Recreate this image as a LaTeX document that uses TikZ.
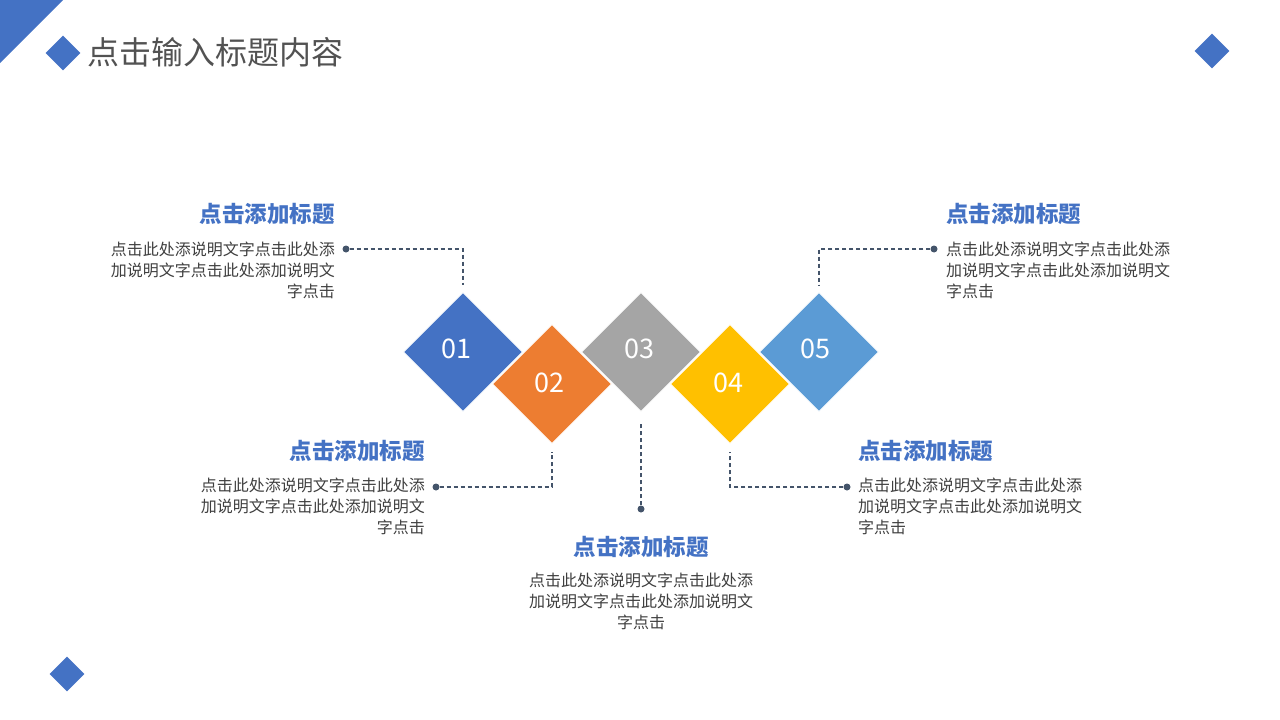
\documentclass[tikz,border=0pt]{standalone}
\usepackage{fontspec}
\newfontfamily\cjk{Noto Sans CJK SC}
\usetikzlibrary{shapes.geometric}
\definecolor{cblue}{HTML}{4472C4}
\definecolor{corange}{HTML}{ED7D31}
\definecolor{cgray}{HTML}{A5A5A5}
\definecolor{cyellow}{HTML}{FFC000}
\definecolor{clblue}{HTML}{5B9BD5}
\definecolor{cconn}{HTML}{44546A}
\definecolor{cbody}{HTML}{3F3F3F}
\definecolor{ctitle}{HTML}{525252}
\tikzset{
  bigdia/.style={diamond, aspect=1, inner sep=0pt, minimum width=119pt, minimum height=119pt, draw=white, line width=0.8pt},
  smalldia/.style={diamond, aspect=1, inner sep=0pt, minimum width=35pt, minimum height=35pt, fill=cblue},
  num/.style={text=white, inner sep=0pt, font=\cjk\fontsize{27}{27}\selectfont},
  head/.style={text=cblue, inner sep=0pt, font=\cjk\bfseries\fontsize{22.5}{26}\selectfont},
  body/.style={text=cbody, inner sep=0pt, font=\cjk\fontsize{16}{21}\selectfont},
  dotnode/.style={circle, fill=cconn, inner sep=0pt, minimum size=7pt},
  conn/.style={draw=cconn, line width=1.2pt, dash pattern=on 4pt off 3pt}
}
\begin{document}
\begin{tikzpicture}[x=1pt,y=-1pt]
\useasboundingbox (0,0) rectangle (1280,720);
% corner decoration
\fill[cblue] (0,0) -- (63,0) -- (0,63) -- cycle;
\node[smalldia] (tdia) at (63,53) {};
\node[smalldia] (trdia) at (1212,51) {};
\node[smalldia] (bldia) at (67,674) {};
\node[anchor=west, inner sep=0pt, text=ctitle, font=\cjk\fontsize{32}{32}\selectfont] (title) at (87,52) {点击输入标题内容};
% big diamonds
\node[bigdia, fill=cblue] (D1) at (463,352) {};
\node[bigdia, fill=corange] (D2) at (552,384) {};
\node[bigdia, fill=cgray] (D3) at (641,352) {};
\node[bigdia, fill=cyellow] (D4) at (730,384) {};
\node[bigdia, fill=clblue] (D5) at (819,352) {};
\node[num] (n1) at (456,349) {01};
\node[num] (n2) at (549,383) {02};
\node[num] (n3) at (639,349) {03};
\node[num] (n4) at (728,383) {04};
\node[num] (n5) at (815,349) {05};
% dots
\node[dotnode] (p1) at (346,249) {};
\node[dotnode] (p2) at (436,487) {};
\node[dotnode] (p3) at (641,509) {};
\node[dotnode] (p4) at (847,487) {};
\node[dotnode] (p5) at (934,249) {};
% connectors
\draw[conn] (p1) -| ([yshift=7pt]D1.north);
\draw[conn] (p2) -| ([yshift=-8pt]D2.south);
\draw[conn] (p3) -- ([yshift=-10pt]D3.south);
\draw[conn] (p4) -| ([yshift=-8pt]D4.south);
\draw[conn] (p5) -| ([yshift=7pt]D5.north);
% text blocks
\node[head, anchor=east] (h1) at (335,214) {点击添加标题};
\node[body, anchor=east, align=right] (b1) at (335,270) {点击此处添说明文字点击此处添\\加说明文字点击此处添加说明文\\字点击};
\node[head, anchor=east] (h2) at (425,451) {点击添加标题};
\node[body, anchor=east, align=right] (b2) at (425,506) {点击此处添说明文字点击此处添\\加说明文字点击此处添加说明文\\字点击};
\node[head] (h3) at (641,547) {点击添加标题};
\node[body, align=center] (b3) at (641,601) {点击此处添说明文字点击此处添\\加说明文字点击此处添加说明文\\字点击};
\node[head, anchor=west] (h4) at (858,451) {点击添加标题};
\node[body, anchor=west, align=left] (b4) at (858,506) {点击此处添说明文字点击此处添\\加说明文字点击此处添加说明文\\字点击};
\node[head, anchor=west] (h5) at (946,214) {点击添加标题};
\node[body, anchor=west, align=left] (b5) at (946,270) {点击此处添说明文字点击此处添\\加说明文字点击此处添加说明文\\字点击};
\end{tikzpicture}
\end{document}
